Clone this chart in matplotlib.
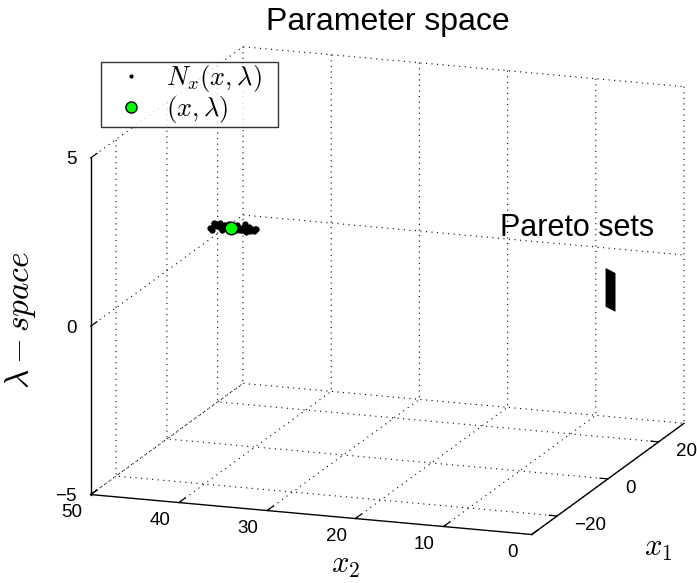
import numpy as np
import matplotlib
matplotlib.use('Agg')
import matplotlib.pyplot as plt
from matplotlib import transforms
from mpl_toolkits.mplot3d import proj3d

plt.rcParams['font.family'] = ['Liberation Sans', 'DejaVu Sans']
plt.rcParams['mathtext.fontset'] = 'cm'
plt.rcParams['grid.linestyle'] = (0, (1, 4))
plt.rcParams['grid.color'] = 'k'
plt.rcParams['grid.linewidth'] = 0.8

# neighbourhood N_x(x, lambda) samples
nx_x1 = [0.3, -0.5, 0.8, -0.2, 0.6, -0.8, 0.1, 0.5, -0.4, 0.9, -0.7, 0.2,
         -0.1, 0.7, -0.6, 0.4, -0.3, 0.0, 0.6, -0.9, 0.3, -0.5, 0.8, -0.2,
         0.5, -0.7, 0.1, 0.4, -0.3, 0.7, -0.1, 0.2, -0.6, 0.9, -0.4, 0.0,
         0.2, -0.3, 0.5, -0.6, 0.1, 0.4, -0.2, 0.7, -0.5, 0.3, -0.1, 0.6,
         -0.4, 0.0]
nx_x2 = [40.1, 40.3, 40.4, 40.6, 40.8, 40.9, 41.1, 41.3, 41.4, 41.6, 41.8, 41.9,
         42.1, 42.3, 42.4, 42.6, 42.8, 42.9, 43.1, 43.3, 43.4, 43.6, 43.8, 43.9,
         44.1, 44.3, 44.4, 44.6, 44.8, 44.9, 40.5, 41.5, 42.5, 43.5, 44.5, 42.0,
         40.2, 40.7, 41.0, 41.2, 41.7, 42.2, 43.0, 43.2, 43.7, 44.0, 44.2, 44.7,
         45.0, 39.9]
nx_lam = [1.45, 1.50, 1.38, 1.52, 1.42, 1.48, 1.36, 1.55, 1.44, 1.40, 1.53, 1.46,
          1.39, 1.51, 1.43, 1.49, 1.37, 1.54, 1.41, 1.47, 1.50, 1.38, 1.45, 1.56,
          1.40, 1.52, 1.44, 1.48, 1.36, 1.50, 1.42, 1.47, 1.53, 1.39, 1.55, 1.46,
          1.41, 1.49, 1.44, 1.51, 1.40, 1.47, 1.52, 1.43, 1.48, 1.39, 1.50, 1.45,
          1.42, 1.47]

# the point (x, lambda)
pt_x1 = [0.0]
pt_x2 = [42.7]
pt_lam = [1.45]

# Pareto sets: segment in x swept over lambda
pareto_x1 = [5.0, 3.0]
pareto_x2 = [1.7, 0.0]
pareto_lam = [-0.2, 0.95]

x1_ticks = [-20, 0, 20]
x2_ticks = [0, 10, 20, 30, 40, 50]
lam_ticks = [-5, 0, 5]

fig = plt.figure(figsize=(6.97, 5.83), dpi=100)
ax = fig.add_axes([31 / 697, -7 / 583, 1, 1], projection='3d', proj_type='ortho')
ax.view_init(elev=14.9, azim=-160.6)
ax.set_box_aspect((1.0, 1.02, 0.76), zoom=1.235)

ax.plot(nx_x1, nx_x2, nx_lam, '.', color='k', markersize=7, label=r'$N_x(x,\lambda)$')
ax.plot(pt_x1, pt_x2, pt_lam, 'o', markerfacecolor=(0, 1, 0), markeredgecolor='k',
        markersize=9, label=r'$(x,\lambda)$')

P_s, P_l = np.meshgrid([0, 1], pareto_lam)
PX1 = pareto_x1[0] + (pareto_x1[1] - pareto_x1[0]) * P_s
PX2 = pareto_x2[0] + (pareto_x2[1] - pareto_x2[0]) * P_s
ax.plot_surface(PX1, PX2, P_l, color='k', shade=False, linewidth=0)

ax.set_xlim(-30, 30)
ax.set_ylim(0, 50)
ax.set_zlim(-5, 5)
ax.set_xticks(x1_ticks, labels=[])
ax.set_yticks(x2_ticks, labels=[])
ax.set_zticks(lam_ticks, labels=[])

for axis in (ax.xaxis, ax.yaxis, ax.zaxis):
    axis.set_tick_params(labelbottom=False, labeltop=False)
    axis.set_pane_color((1, 1, 1, 0))
    axis.pane.set_edgecolor((1, 1, 1, 0))
    axis.line.set_color('k')
    axis.line.set_linewidth(1.0)
    axis._axinfo['tick']['inward_factor'] = 0.0
    axis._axinfo['tick']['color'] = 'k'
    axis._axinfo['tick']['linewidth'] = {True: 0.9, False: 0.5}
ax.xaxis._axinfo['tick']['outward_factor'] = 0.22
ax.yaxis._axinfo['tick']['outward_factor'] = 0.5
ax.zaxis._axinfo['tick']['outward_factor'] = 0.5

# tick labels: project the tick positions, then nudge them like the MATLAB original
def fmt(v):
    return str(v).replace('-', '\u2212')

M = ax.get_proj()

def tick_labels(xs, ys, zs, vals, dx, dy, ha):
    px, py, _ = proj3d.proj_transform(np.array(xs, float), np.array(ys, float),
                                      np.array(zs, float), M)
    off = transforms.offset_copy(ax.transData, fig=fig, x=dx, y=dy, units='dots')
    for x, y, v in zip(px, py, vals):
        ax.text2D(x, y, fmt(v), transform=off, ha=ha, va='center', fontsize=13.5)

n = len(lam_ticks)
tick_labels([-30] * n, [50] * n, lam_ticks, lam_ticks, -14, -2, 'right')
n = len(x2_ticks)
tick_labels([-30] * n, x2_ticks, [-5] * n, x2_ticks, -19, -18, 'center')
n = len(x1_ticks)
tick_labels(x1_ticks, [0] * n, [-5] * n, x1_ticks, 17, -10, 'left')

fig.text(388 / 697, 1 - 22 / 583, 'Parameter space', fontsize=23, ha='center', va='center')
fig.text(500 / 697, 1 - 228 / 583, 'Pareto sets', fontsize=22, ha='left', va='center')
fig.text(346 / 697, 1 - 565 / 583, r'$x_2$', fontsize=22, ha='center', va='center')
fig.text(658 / 697, 1 - 548 / 583, r'$x_1$', fontsize=22, ha='center', va='center')
fig.text(20 / 697, 1 - 320 / 583, r'$\lambda-space$', fontsize=24, ha='center',
         va='center', rotation=90)

leg = fig.legend(loc='upper left', mode='expand',
                 bbox_to_anchor=(101 / 697, 1 - 127 / 583, 177 / 697, 65 / 583),
                 fontsize=19, frameon=True, fancybox=False, edgecolor='k',
                 borderpad=0.05, borderaxespad=0, handletextpad=0.2,
                 labelspacing=0.0, handlelength=2.2)
leg.get_frame().set_linewidth(1.0)
leg.legend_handles[0].set_markersize(4)
leg.legend_handles[1].set_markersize(8)

fig.savefig('out.png', dpi=100)
